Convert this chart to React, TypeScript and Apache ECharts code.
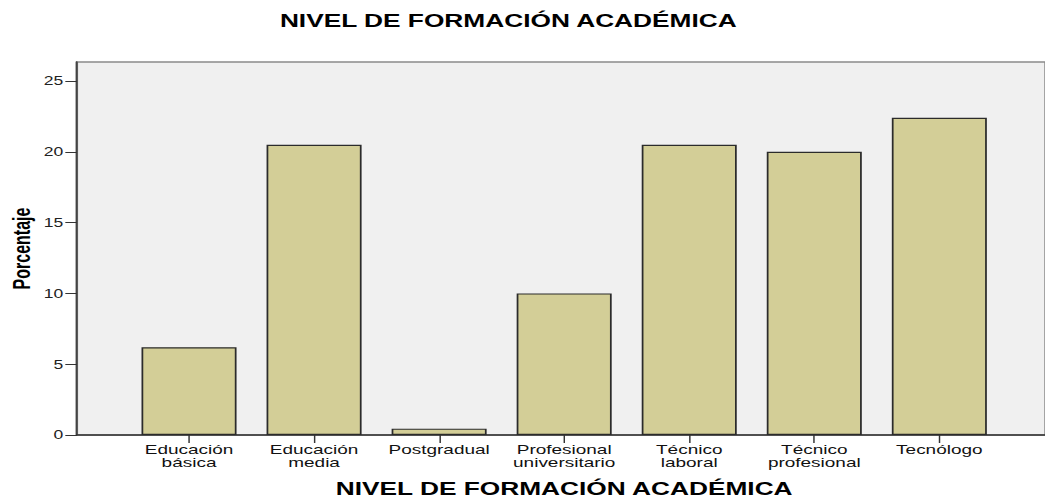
import React, { useEffect, useRef } from "react";
import * as echarts from "echarts";

const categories = [
  "Educación\nbásica",
  "Educación\nmedia",
  "Postgradual",
  "Profesional\nuniversitario",
  "Técnico\nlaboral",
  "Técnico\nprofesional",
  "Tecnólogo",
];
const percentages = [6.2, 20.5, 0.45, 10.0, 20.5, 20.0, 22.4];
const yMin = 0;
const yMax = 26.34;
const yInterval = 5;

// The reference image is horizontally stretched; we render at a narrower width and stretch it back.
const STRETCH = 1.46;
const W = 1045 / STRETCH;
const H = 499;
const sx = (px: number) => px / STRETCH;

export default function App() {
  const ref = useRef<HTMLDivElement>(null);
  useEffect(() => {
    document.body.style.margin = "0";
    const chart = echarts.init(ref.current!, null, { renderer: "svg" });
    const font = "'Liberation Sans', Arial, sans-serif";
    chart.setOption({
      animation: false,
      backgroundColor: "#ffffff",
      title: {
        text: "NIVEL DE FORMACIÓN ACADÉMICA",
        left: sx(501),
        textAlign: "center",
        top: 7,
        textStyle: { fontFamily: font, fontSize: 18, fontWeight: "bold", color: "#000" },
      },
      grid: [
        { left: sx(126.5), right: sx(43.5), top: 62, bottom: 64, outerBoundsMode: "none" },
        {
          left: sx(77),
          right: 0,
          top: 62,
          bottom: 64,
          outerBoundsMode: "none",
          show: true,
          backgroundColor: "#f0f0f0",
          borderColor: "#8a8a8a",
          borderWidth: 1.5,
          z: 0,
        },
      ],
      xAxis: [
        {
          type: "category",
          gridIndex: 0,
          data: categories,
          axisLine: { show: false },
          axisTick: { show: true, alignWithLabel: true, length: 8, lineStyle: { color: "#333", width: 1 } },
          axisLabel: {
            margin: 8,
            fontFamily: font,
            fontSize: 13,
            lineHeight: 13,
            color: "#111",
            interval: 0,
          },
          name: "NIVEL DE FORMACIÓN ACADÉMICA",
          nameLocation: "middle",
          nameGap: 45,
          nameMoveOverlap: false,
          nameTextStyle: { fontFamily: font, fontSize: 18, fontWeight: "bold", color: "#000" },
        },
        {
          type: "value",
          gridIndex: 1,
          min: 0,
          max: 1,
          axisLine: { show: true, onZero: false, lineStyle: { color: "#333", width: 1.5 } },
          axisTick: { show: false },
          axisLabel: { show: false },
          splitLine: { show: false },
        },
      ],
      yAxis: [
        {
          type: "value",
          gridIndex: 0,
          min: yMin,
          max: yMax,
          interval: yInterval,
          show: false,
          splitLine: { show: false },
        },
        {
          type: "value",
          gridIndex: 1,
          min: yMin,
          max: yMax,
          interval: yInterval,
          axisLine: { show: true, lineStyle: { color: "#444", width: 1.4 } },
          axisTick: { show: true, length: 8, lineStyle: { color: "#333", width: 1 } },
          axisLabel: {
            margin: 9.5,
            fontFamily: font,
            fontSize: 12,
            color: "#222",
            showMaxLabel: false,
          },
          splitLine: { show: false },
          name: "Porcentaje",
          nameLocation: "middle",
          nameGap: 30,
          nameMoveOverlap: false,
          nameTextStyle: {
            fontFamily: font,
            fontSize: 16,
            fontWeight: "bold",
            color: "#000",
          },
        },
      ],
      series: [
        {
          type: "bar",
          xAxisIndex: 0,
          yAxisIndex: 0,
          data: percentages,
          barCategoryGap: "24%",
          z: 3,
          itemStyle: { color: "#d3ce97", borderColor: "#2b2b2b", borderWidth: 1.2 },
        },
      ],
    });
    return () => chart.dispose();
  }, []);
  return (
    <div
      ref={ref}
      style={{ width: W, height: H, transform: `scaleX(${STRETCH})`, transformOrigin: "0 0" }}
    />
  );
}
